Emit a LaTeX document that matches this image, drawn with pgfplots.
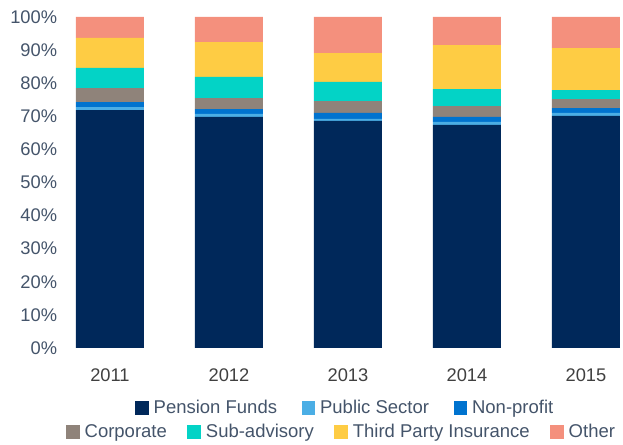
\documentclass[border=0pt]{standalone}
\usepackage{pgfplots}
\pgfplotsset{compat=1.18}
\usepackage{fontspec}
\setmainfont{Liberation Sans}
\definecolor{cPension}{HTML}{00285A}
\definecolor{cPublic}{HTML}{4BAEE5}
\definecolor{cNonprofit}{HTML}{0073CF}
\definecolor{cCorporate}{HTML}{8F837A}
\definecolor{cSub}{HTML}{03D3C6}
\definecolor{cThird}{HTML}{FECC44}
\definecolor{cOther}{HTML}{F4907D}
\definecolor{ylab}{HTML}{44546A}
\definecolor{xlab}{HTML}{404040}
\pgfplotsset{
  sq legend/.style={legend image code/.code={\fill[##1] (0pt,-6.8pt) rectangle (13.5pt,6.8pt);}},
  mylegend/.style={legend columns=-1, legend cell align=left,
    legend style={draw=none, fill=none, anchor=center, inner sep=0pt,
      font=\fontsize{18.5}{21}\selectfont, text=ylab,
      nodes={inner sep=1.5pt},
      /tikz/every odd column/.append style={column sep=3.5pt},
      /tikz/every even column/.append style={column sep=#1}}},
}
\begin{document}
\begin{tikzpicture}[x=1pt,y=1pt]
\path[use as bounding box] (0,0) rectangle (623,444);
\begin{axis}[
  at={(57.6pt,96pt)}, anchor=south west,
  scale only axis, width=564.06pt, height=331pt,
  ybar stacked, bar width=0.571,
  xmin=-0.44, xmax=4.3, ymin=0, ymax=100,
  axis line style={draw=none}, major tick length=0pt,
  xtick={0,1,2,3,4}, xticklabels={2011,2012,2013,2014,2015},
  ytick={0,10,...,100}, yticklabel={\pgfmathprintnumber{\tick}\%},
  /pgf/number format/assume math mode=true,
  xticklabel style={font=\fontsize{18.3}{21}\selectfont, text=xlab, yshift=-17pt},
  yticklabel style={font=\fontsize{18.3}{21}\selectfont, text=ylab, xshift=3pt},
  mylegend=23pt,
  legend style={at={(0.5095,-0.1813)}},
]
\addplot[fill=cPension, draw=none, sq legend] coordinates {(0,71.9) (1,69.8) (2,68.6) (3,67.4) (4,70.1)};
\addplot[fill=cPublic, draw=none, sq legend] coordinates {(0,0.9) (1,0.9) (2,0.6) (3,0.9) (4,0.9)};
\addplot[fill=cNonprofit, draw=none, sq legend] coordinates {(0,1.5) (1,1.5) (2,1.8) (3,1.5) (4,1.5)};
\addplot[fill=cCorporate, draw=none, sq legend] coordinates {(0,4.2) (1,3.3) (2,3.6) (3,3.3) (4,2.7)};
\addplot[fill=cSub, draw=none, sq legend] coordinates {(0,6.1) (1,6.4) (2,5.8) (3,5.1) (4,2.7)};
\addplot[fill=cThird, draw=none, sq legend] coordinates {(0,9.1) (1,10.5) (2,8.7) (3,13.3) (4,12.7)};
\addplot[fill=cOther, draw=none, sq legend] coordinates {(0,6.3) (1,7.6) (2,10.9) (3,8.5) (4,9.4)};
\legend{Pension Funds, Public Sector, Non-profit}
\end{axis}
\begin{axis}[
  at={(57.6pt,96pt)}, anchor=south west,
  scale only axis, width=564.06pt, height=331pt,
  xmin=-0.44, xmax=4.3, ymin=0, ymax=100,
  hide axis,
  mylegend=19pt,
  legend style={at={(0.503,-0.2538)}},
]
\addlegendimage{sq legend, fill=cCorporate, draw=none}
\addlegendimage{sq legend, fill=cSub, draw=none}
\addlegendimage{sq legend, fill=cThird, draw=none}
\addlegendimage{sq legend, fill=cOther, draw=none}
\legend{Corporate, Sub-advisory, Third Party Insurance, Other}
\end{axis}
\end{tikzpicture}
\end{document}
